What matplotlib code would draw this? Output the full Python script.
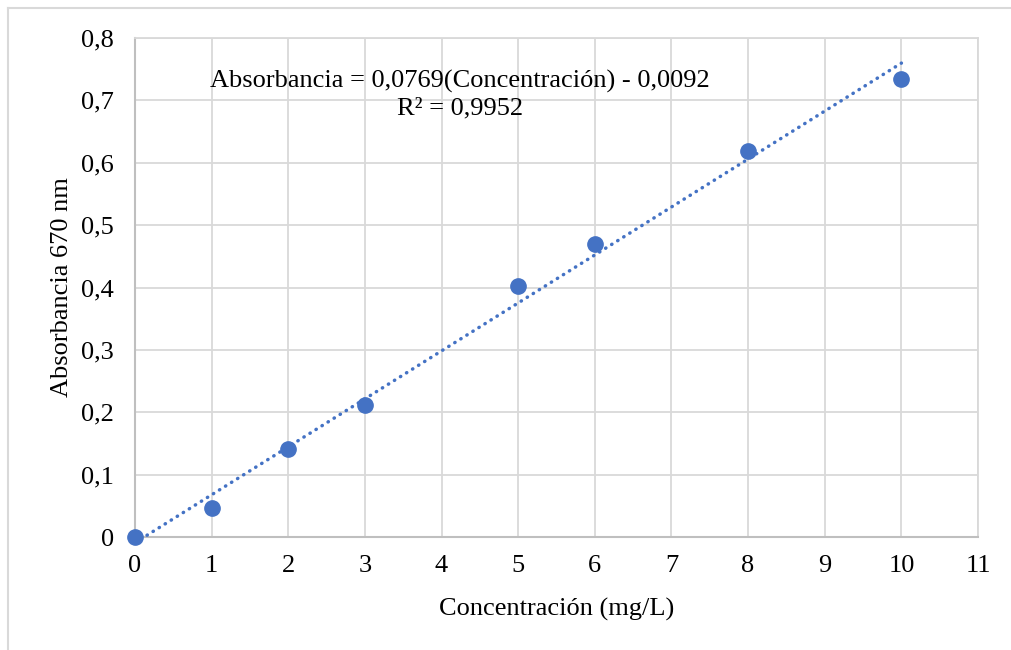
import numpy as np
import matplotlib.pyplot as plt
from matplotlib.lines import Line2D

# datos de la curva de calibracion
conc = [0, 1, 2, 3, 5, 6, 8, 10]
absorb = [0.0, 0.047, 0.141, 0.211, 0.402, 0.469, 0.619, 0.735]
pendiente = 0.0769
intercepto = -0.0092
x_ticks = list(range(0, 12))
y_ticks = [0, 0.1, 0.2, 0.3, 0.4, 0.5, 0.6, 0.7, 0.8]
y_labels = ['0', '0,1', '0,2', '0,3', '0,4', '0,5', '0,6', '0,7', '0,8']

plt.rcParams['font.family'] = ['Liberation Serif', 'DejaVu Serif']

fig = plt.figure(figsize=(10.11, 6.5), dpi=100)
ax = fig.add_axes([0.1335, 0.1738, 0.8339, 0.7677])

azul = '#4472C4'

# linea de tendencia
xt = np.array([conc[0], conc[-1]])
ax.plot(xt, pendiente * xt + intercepto, color=azul, lw=2.5,
        linestyle=(0, (0.1, 1.95)), dash_capstyle='round', zorder=3, clip_on=False)

ax.plot(conc, absorb, 'o', color=azul, markersize=11, zorder=4, clip_on=False)

ax.set_xlim(0, 11)
ax.set_ylim(0, 0.8)
ax.set_xticks(x_ticks)
ax.set_yticks(y_ticks)
ax.set_yticklabels(y_labels)
ax.tick_params(axis='both', length=0, labelsize=19)
ax.tick_params(axis='y', pad=15)
ax.tick_params(axis='x', pad=13)
ax.grid(True, color='#d9d9d9', lw=1.3)
ax.set_axisbelow(True)

for s in ['top', 'right']:
    ax.spines[s].set_color('#d9d9d9')
    ax.spines[s].set_linewidth(1.3)
for s in ['left', 'bottom']:
    ax.spines[s].set_color('#bfbfbf')
    ax.spines[s].set_linewidth(1.5)

ax.set_xlabel('Concentración (mg/L)', fontsize=19, labelpad=15)
ax.set_ylabel('Absorbancia 670 nm', fontsize=19, labelpad=6)

ax.text(4.24, 0.709, 'Absorbancia = 0,0769(Concentración) - 0,0092\nR² = 0,9952',
        ha='center', va='center', fontsize=19, multialignment='center',
        linespacing=1.25)

# borde del area del grafico
fig.add_artist(Line2D([8 / 1011, 1], [1 - 8 / 650, 1 - 8 / 650], color='#d9d9d9', lw=1.5))
fig.add_artist(Line2D([8 / 1011, 8 / 1011], [0, 1 - 8 / 650], color='#d9d9d9', lw=1.5))

fig.savefig('out.png', dpi=100)
